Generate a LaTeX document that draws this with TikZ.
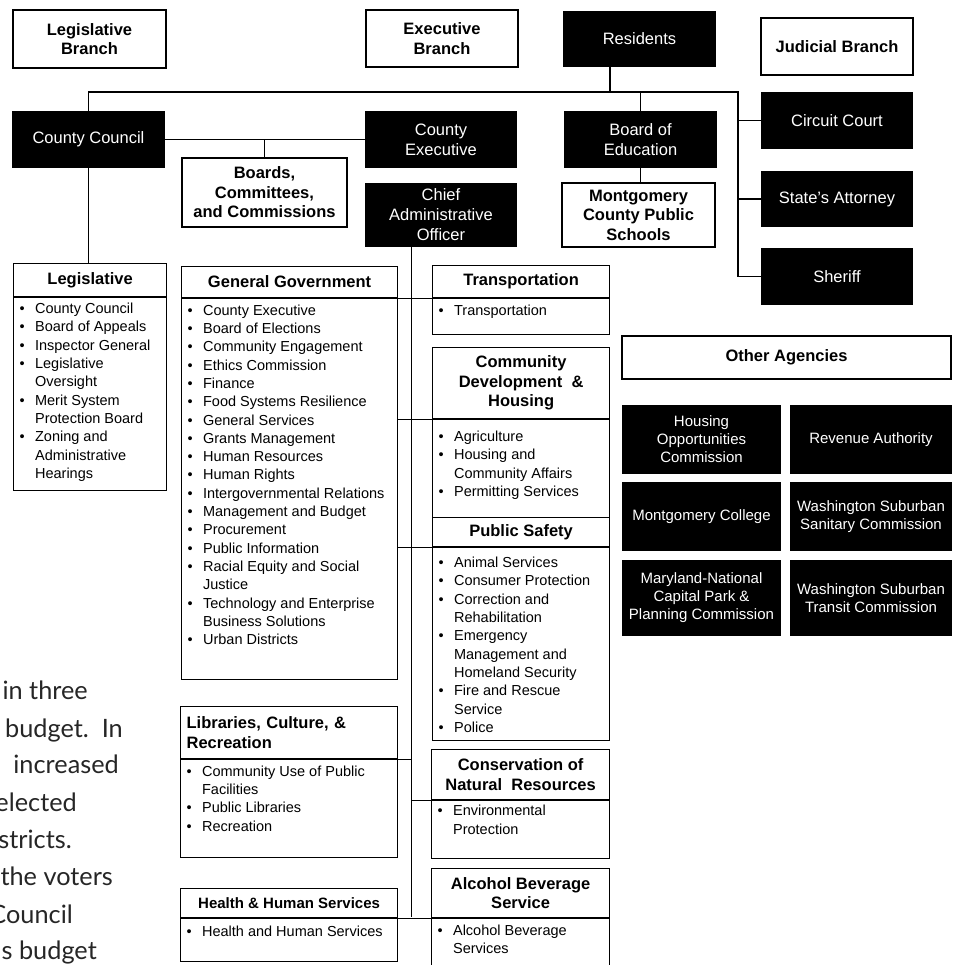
\documentclass[tikz,border=0pt]{standalone}
\usepackage{fontspec}
\setmainfont{Liberation Sans}
\newfontfamily\pagefont{Lato}

\newcommand{\bul}[1]{\noindent\hangindent=17pt\hangafter=1\makebox[17pt][l]{\hspace{1.5pt}\textbullet}#1\par}
\newcommand{\listbody}[4]{\parbox[c][#1][t]{#2}{\fontsize{14.5}{18.3}\selectfont\leftskip=4.5pt\rightskip=0pt plus 1fil\vspace*{#3}#4}}

\begin{document}
\begin{tikzpicture}[x=1pt,y=-1pt,
    blk/.style={draw=black,fill=black,text=white,align=center,inner sep=0pt,line width=1.2pt,
        font=\fontsize{16.5}{20}\selectfont,minimum width=151pt,minimum height=55pt},
    wht/.style={draw=black,fill=white,align=center,inner sep=0pt,line width=1.2pt,
        font=\bfseries\fontsize{16.5}{19.5}\selectfont},
    agency/.style={blk,font=\fontsize{15}{18}\selectfont},
    hdr/.style={wht,anchor=north west},
    lst/.style={draw=black,fill=white,inner sep=0pt,line width=1.2pt,anchor=north west},
    conn/.style={line width=1.2pt},
    frag/.style={anchor=base east,inner sep=0pt,text=black!85,font=\pagefont\fontsize{25.3}{25.3}\selectfont}]

    \useasboundingbox (0,0) rectangle (956,965);
    \clip (0,0) rectangle (956,965);

    \path   (89.5,39) node (legbr) [wht,minimum width=153pt,minimum height=58pt] {Legislative\\Branch}
            (442,38.5) node (exebr) [wht,minimum width=152pt,minimum height=57pt] {Executive\\Branch}
            (639.5,39) node (res) [blk,minimum height=54pt] {Residents}
            (837,46.5) node (judbr) [wht,minimum width=152pt,minimum height=57pt] {Judicial Branch}
            (88.5,139.5) node (cc) [blk] {County Council}
            (441,139.5) node (ce) [blk,minimum width=150pt] {County\\Executive}
            (640.5,139.5) node (boe) [blk] {Board of\\Education}
            (264.5,192.5) node (bcc) [wht,minimum width=165pt,minimum height=69pt] {Boards,\\Committees,\\and Commissions}
            (441,215) node (cao) [blk,minimum width=150pt,minimum height=62pt] {Chief\\Administrative\\Officer}
            (638.5,215) node (mcps) [wht,minimum width=153pt,minimum height=64pt] {Montgomery\\County Public\\Schools}
            (837,120.5) node (circ) [blk,minimum width=150pt] {Circuit Court}
            (837,199) node (sa) [blk,minimum width=150pt,minimum height=54pt] {State's Attorney}
            (837,276.5) node (sher) [blk,minimum width=150pt] {Sheriff};

    \path   (786.5,357.5) node (oa) [wht,minimum width=329pt,minimum height=43pt] {Other Agencies}
            (701.5,439.5) node (hoc) [agency,minimum width=157pt,minimum height=67pt] {Housing\\Opportunities\\Commission}
            (871,439.5) node (ra) [agency,minimum width=160pt,minimum height=67pt] {Revenue Authority}
            (701.5,516.5) node (mc) [agency,minimum width=157pt,minimum height=67pt] {Montgomery College}
            (871,516.5) node (wssc) [agency,minimum width=160pt,minimum height=67pt] {Washington Suburban\\Sanitary Commission}
            (701.5,598) node (mnc) [agency,minimum width=157pt,minimum height=74pt] {Maryland-National\\Capital Park \&\\Planning Commission}
            (871,598) node (wstc) [agency,minimum width=160pt,minimum height=74pt] {Washington Suburban\\Transit Commission};

    \path (13,263) node (leg) [hdr,minimum width=153pt,minimum height=33pt] {Legislative};
    \path (leg.south west) node (legl) [lst] {\listbody{193pt}{153pt}{5.3pt}{%
        \bul{County Council}\bul{Board of Appeals}\bul{Inspector General}%
        \bul{Legislative\\Oversight}\bul{Merit System\\Protection Board}%
        \bul{Zoning and\\Administrative\\Hearings}}};

    \path (181,266) node (gg) [hdr,minimum width=216pt,minimum height=31pt] {General Government};
    \path (gg.south west) node (ggl) [lst] {\listbody{381pt}{216pt}{5.9pt}{%
        \bul{County Executive}\bul{Board of Elections}\bul{Community Engagement}%
        \bul{Ethics Commission}\bul{Finance}\bul{Food Systems Resilience}%
        \bul{General Services}\bul{Grants Management}\bul{Human Resources}%
        \bul{Human Rights}\bul{Intergovernmental Relations}\bul{Management and Budget}%
        \bul{Procurement}\bul{Public Information}\bul{Racial Equity and Social\\Justice}%
        \bul{Technology and Enterprise\\Business Solutions}\bul{Urban Districts}}};

    \path (432,265) node (tr) [hdr,minimum width=177pt,minimum height=32pt] {Transportation};
    \path (tr.south west) node (trl) [lst] {\listbody{36pt}{177pt}{5.9pt}{\bul{Transportation}}};

    \path (432,347) node (cdh) [hdr,minimum width=177pt,minimum height=71pt] {Community\\Development\ \ \&\\Housing};
    \path (cdh.south west) node (cdhl) [lst] {\listbody{113pt}{177pt}{11.3pt}{%
        \bul{Agriculture}\bul{Housing and\\Community Affairs}\bul{Permitting Services}}};

    \path (432,517) node (ps) [hdr,minimum width=177pt,minimum height=29pt] {Public Safety};
    \path (ps.south west) node (psl) [lst] {\listbody{193pt}{177pt}{9.3pt}{%
        \bul{Animal Services}\bul{Consumer Protection}\bul{Correction and\\Rehabilitation}%
        \bul{Emergency\\Management and\\Homeland Security}\bul{Fire and Rescue\\Service}\bul{Police}}};

    \path (180,706) node (lib) [hdr,minimum width=217pt,minimum height=52pt,align=left,
        text width=205pt,inner xsep=6pt] {Libraries, Culture, \&\\Recreation};
    \path (lib.south west) node (libl) [lst] {\listbody{98pt}{217pt}{5.9pt}{%
        \bul{Community Use of Public\\Facilities}\bul{Public Libraries}\bul{Recreation}}};

    \path (180,888) node (hhs) [hdr,minimum width=217pt,minimum height=29pt,
        font=\bfseries\fontsize{15}{18}\selectfont] {Health \& Human Services};
    \path (hhs.south west) node (hhsl) [lst] {\listbody{43pt}{217pt}{7.5pt}{\bul{Health and Human Services}}};

    \path (431,749) node (cons) [hdr,minimum width=178pt,minimum height=50pt] {Conservation of\\Natural\ \ Resources};
    \path (cons.south west) node (consl) [lst] {\listbody{58pt}{178pt}{4.5pt}{\bul{Environmental\\Protection}}};

    \path (431,868) node (alc) [hdr,minimum width=178pt,minimum height=49pt] {Alcohol Beverage\\Service};
    \path (alc.south west) node (alcl) [lst] {\listbody{68pt}{178pt}{6pt}{\bul{Alcohol Beverage\\Services}}};

    \coordinate (busr) at (738,92);
    \coordinate (resdrop) at (610,92);
    \coordinate (spine) at (411.5,917);

    \draw[conn] (cc.north) |- (busr) |- (sher.west);
    \draw[conn] (res.south -| resdrop) -- (resdrop);
    \draw[conn] (circ.west) -- (circ.west -| busr);
    \draw[conn] (sa.west) -- (sa.west -| busr);
    \draw[conn] (boe.north) -- (boe.north |- busr);
    \draw[conn] (boe.south) -- (boe.south |- mcps.north);
    \draw[conn] (node cs: name =cc, anchor =east) -- (node cs: name =ce, anchor =west);
    \draw[conn] (bcc.north) -- (bcc.north |- cc.east);
    \draw[conn] (cc.south) -- (cc.south |- leg.north);
    \draw[conn] (cao.south -| spine) -- (spine);
    \draw[conn] (node cs: name =ggl, anchor =north east) -- (node cs: name =trl, anchor =north west);
    \draw[conn] (cdhl.north west) -- (cdhl.north west -| ggl.east);
    \draw[conn] (psl.north west) -- (psl.north west -| ggl.east);
    \draw[conn] (libl.north east) -- (libl.north east -| spine);
    \draw[conn] (consl.north west) -- (consl.north west -| spine);
    \draw[conn] (node cs: name =hhsl, anchor =north east) -- (node cs: name =alcl, anchor =north west);

    \path   (88,699) node (f1) [frag] {in three}
            (123,737) node (f2) [frag] {budget.\ \ In}
            (119,773) node (f3) [frag] {increased}
            (77,811) node (f4) [frag] {elected}
            (72,848) node (f5) [frag] {stricts.}
            (113,885) node (f6) [frag] {the voters}
            (73,923) node (f7) [frag] {Council}
            (97,959) node (f8) [frag] {s budget};

\end{tikzpicture}
\end{document}
